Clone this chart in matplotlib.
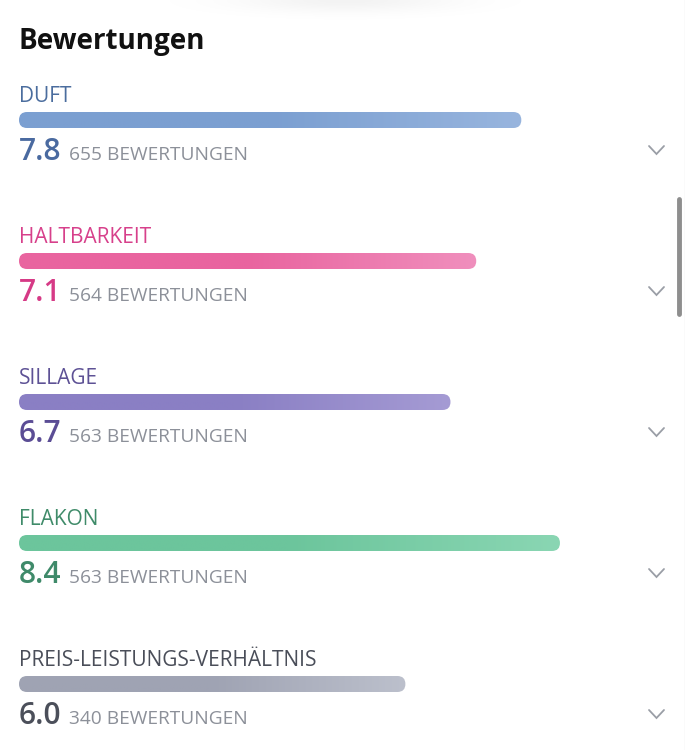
import numpy as np
import matplotlib.pyplot as plt
from matplotlib.patches import FancyBboxPatch
from matplotlib.colors import to_rgb

# data
categories = ['DUFT', 'HALTBARKEIT', 'SILLAGE', 'FLAKON', 'PREIS-LEISTUNGS-VERHÄLTNIS']
scores = [7.8, 7.1, 6.7, 8.4, 6.0]
counts = [655, 564, 563, 563, 340]
count_suffix = 'BEWERTUNGEN'
title = 'Bewertungen'

label_colors = ['#4b6d9e', '#d7408b', '#5d5195', '#3f8b69', '#4a4e59']
bar_start = ['#7b9fd1', '#e9649f', '#8a7fc4', '#6cc59c', '#9fa3b3']
bar_end = ['#98b5de', '#f08fbd', '#a59bd4', '#8ad6b3', '#bcc0cc']
score_colors = ['#4a6aa0', '#d63a86', '#5b4d95', '#3f8a6a', '#4b4f5a']
grey_text = '#8c9099'

W, H = 685, 750
px_per_unit = 64.4   # pixels per score point
left_px = 19

plt.rcParams['font.family'] = ['Open Sans', 'DejaVu Sans']

fig = plt.figure(figsize=(W / 100, H / 100), dpi=100)
ax = fig.add_axes([0, 0, 1, 1])
ax.set_xlim(-left_px / px_per_unit, (W - left_px) / px_per_unit)
ax.set_ylim(H, 0)
ax.axis('off')

def px(x):
    # pixel column -> score units
    return (x - left_px) / px_per_unit

# top shadow
yy, xx = np.mgrid[0:30, 0:685]
shadow = np.exp(-((xx - 345) / 110.0) ** 2) * np.exp(-(yy / 12.0) ** 2)
ax.imshow(np.dstack([np.zeros_like(shadow)] * 3 + [shadow * 0.05]),
          extent=[px(0), px(685), 30, 0], aspect='auto', zorder=0)

ax.text(px(19), 41, title, fontsize=20, fontweight='bold', color='#111111',
        va='center', ha='left')

row_gap = 141
bar_h = 16
for i, cat in enumerate(categories):
    y0 = 95 + i * row_gap
    ax.text(0, y0 + 1.5, cat, fontsize=15, color=label_colors[i], va='center', ha='left')

    yb = y0 + 25
    patch = FancyBboxPatch((0, yb - bar_h / 2), scores[i], bar_h,
                           boxstyle='round,pad=0,rounding_size=%f' % (bar_h / 2 / px_per_unit),
                           mutation_aspect=px_per_unit, fc='none', ec='none')
    ax.add_patch(patch)
    c0 = np.array(to_rgb(bar_start[i]))
    c1 = np.array(to_rgb(bar_end[i]))
    t = np.clip((np.linspace(0, 1, 256) - 0.5) / 0.5, 0, 1)
    grad = c0[None, :] * (1 - t[:, None]) + c1[None, :] * t[:, None]
    im = ax.imshow(grad[None, :, :], extent=[0, scores[i], yb + bar_h / 2, yb - bar_h / 2],
                   aspect='auto', zorder=2)
    im.set_clip_path(patch)

    ys = y0 + 57
    ax.text(0, ys, '%.1f' % scores[i], fontsize=21.5, fontweight='semibold',
            color=score_colors[i], va='center', ha='left')
    ax.text(px(69), ys + 3, '%d %s' % (counts[i], count_suffix), fontsize=13.8,
            color=grey_text, va='center', ha='left')

    # chevron
    yc = y0 + 55
    ax.plot([px(649), px(656.5), px(664)], [yc - 4, yc + 4, yc - 4], color='#9a9ea6',
            lw=1.3, solid_capstyle='round', solid_joinstyle='miter')

# scrollbar and right edge
ax.plot([px(679), px(679)], [199, 314], color='#8e8e8e', lw=3.5, solid_capstyle='round')
ax.plot([px(684.5), px(684.5)], [0, 750], color='#e6e6e6', lw=1)

fig.savefig('out.png', dpi=100)
